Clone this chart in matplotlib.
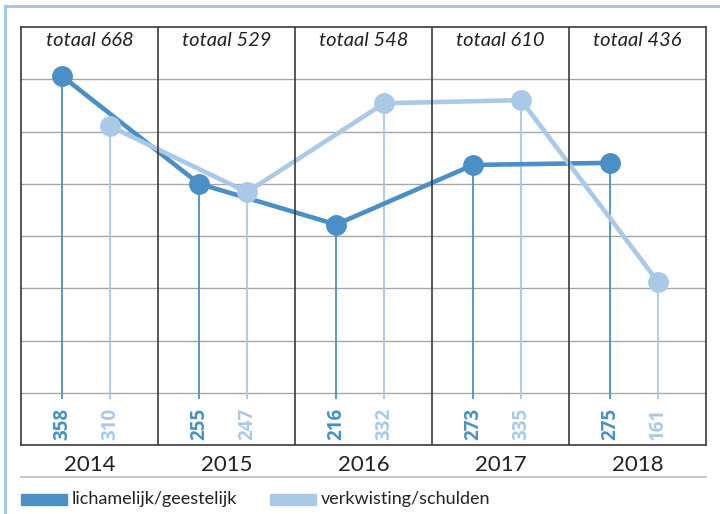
import numpy as np
import matplotlib
matplotlib.use("Agg")
import matplotlib.pyplot as plt
from matplotlib.lines import Line2D
from matplotlib.patches import Rectangle

plt.rcParams['font.family'] = ['Lato', 'DejaVu Sans']

years = ["2014", "2015", "2016", "2017", "2018"]
totals = [668, 529, 548, 610, 436]
lichamelijk = [358, 255, 216, 273, 275]
verkwisting = [310, 247, 332, 335, 161]

dark = "#4a90c6"
light = "#a9c9e7"
frame = "#3a3a3a"

fig = plt.figure(figsize=(7.2, 5.14), dpi=100)
W, H = 720, 514
ax = fig.add_axes([21 / W, 1 - 445 / H, 685 / W, 418 / H])

idx = np.arange(len(years))
x_dark = idx + 0.30
x_light = idx + 0.65

ax.set_xlim(0, 5)
ax.set_ylim(5, 405)

# gridlines and column separators
for g in np.arange(55, 400, 50):
    ax.axhline(g, color="#a6a6a6", lw=1.0, zorder=1)
for c in idx[1:]:
    ax.axvline(c, color=frame, lw=1.2, zorder=4)

# drop lines
ax.vlines(x_dark, 49, lichamelijk, color=dark, lw=1.3, zorder=2)
ax.vlines(x_light, 49, verkwisting, color=light, lw=1.3, zorder=2)

ax.plot(x_dark, lichamelijk, color=dark, lw=3.3, marker="o", ms=14,
        solid_capstyle="round", zorder=3)
ax.plot(x_light, verkwisting, color=light, lw=3.3, marker="o", ms=14,
        solid_capstyle="round", zorder=3.5)

for xd, xl, vd, vl in zip(x_dark, x_light, lichamelijk, verkwisting):
    ax.text(xd, 25, str(vd), rotation=90, ha="center", va="center",
            color=dark, fontsize=13.5, fontweight="bold", family="Open Sans")
    ax.text(xl, 25, str(vl), rotation=90, ha="center", va="center",
            color=light, fontsize=13.5, fontweight="bold", family="Open Sans")

for i, t in enumerate(totals):
    ax.text(i + 0.5, 392, f"totaal {t}", ha="center", va="center",
            fontsize=14.5, fontstyle="italic", color="#222222")

ax.set_xticks(idx + 0.5)
ax.set_xticklabels(years, fontsize=16, color="#222222")
ax.tick_params(axis="x", length=0, pad=7)
ax.set_yticks([])
for s in ax.spines.values():
    s.set_color(frame)
    s.set_linewidth(1.2)

# separator under the year labels
fig.add_artist(Line2D([21 / W, 706 / W], [1 - 477 / H, 1 - 477 / H],
                      color="#c8c8c8", lw=1.5))

# outer light blue border
fig.add_artist(Line2D([5 / W, 1], [1 - 6 / H, 1 - 6 / H], color="#9dc3e6", lw=2))
fig.add_artist(Line2D([5 / W, 5 / W], [0, 1 - 6 / H], color="#9dc3e6", lw=2))

# legend
fig.add_artist(Rectangle((21 / W, 1 - 505 / H), 46 / W, 11 / H,
                         color=dark, transform=fig.transFigure))
fig.text(72 / W, 1 - 499 / H, "lichamelijk/geestelijk", fontsize=13,
         va="center", ha="left", color="#222222")
fig.add_artist(Rectangle((270 / W, 1 - 505 / H), 46 / W, 11 / H,
                         color=light, transform=fig.transFigure))
fig.text(321 / W, 1 - 499 / H, "verkwisting/schulden", fontsize=13,
         va="center", ha="left", color="#222222")

fig.savefig("out.png", dpi=100)
